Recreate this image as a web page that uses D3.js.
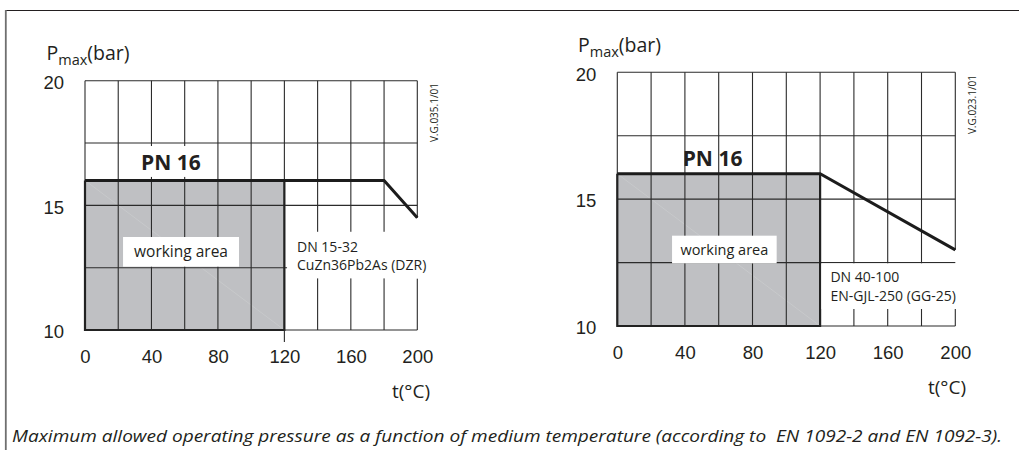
<!DOCTYPE html>
<html>
<head>
<meta charset="utf-8">
<script src="https://cdn.jsdelivr.net/npm/d3@7"></script>
<style>
  body { margin: 0; background: #fff; }
  svg { display: block; font-family: "Open Sans", "Noto Sans", sans-serif; }
</style>
</head>
<body>
<svg id="chart" width="1019" height="450"></svg>
<script>
// ---- data ----
const tempLabels = [0, 40, 80, 120, 160, 200];
const pressLabels = [10, 15, 20];
const gridTemps = [0, 20, 40, 60, 80, 100, 120, 140, 160, 180, 200];
const gridPress = [10, 12.5, 15, 17.5, 20];

const leftCurveT = [0, 180, 200];
const leftCurveP = [16, 16, 14.5];
const rightCurveT = [0, 120, 200];
const rightCurveP = [16, 16, 13];

const workTemp = [0, 120];     // working area, temperature range
const workPress = [10, 16];    // working area, pressure range

const leftMaterial = ["DN 15-32", "CuZn36Pb2As (DZR)"];
const rightMaterial = ["DN 40-100", "EN-GJL-250 (GG-25)"];
const leftCode = "V.G.035.1/01";
const rightCode = "V.G.023.1/01";
const caption = "Maximum allowed operating pressure as a function of medium temperature (according to  EN 1092-2 and EN 1092-3).";

const ink = "#231f20";
const gridCol = "#2b2b2b";
const grey = "#bfc0c3";

const svg = d3.select("#chart");

// page frame
svg.append("line").attr("x1", 5.5).attr("x2", 1019).attr("y1", 10.5).attr("y2", 10.5)
  .attr("stroke", ink).attr("stroke-width", 1.2);
svg.append("line").attr("x1", 5.8).attr("x2", 5.8).attr("y1", 10).attr("y2", 450)
  .attr("stroke", "#6f6f6f").attr("stroke-width", 1.8);

function panel(opt) {
  const x = d3.scaleLinear().domain([0, 200]).range(opt.xr);
  const y = d3.scaleLinear().domain([10, 20]).range(opt.yr);
  const g = svg.append("g");
  const curveEnd = opt.curveP[opt.curveP.length - 1];

  // working area fill
  g.append("rect")
    .attr("x", x(workTemp[0])).attr("y", y(workPress[1]))
    .attr("width", x(workTemp[1]) - x(workTemp[0]))
    .attr("height", y(workPress[0]) - y(workPress[1]))
    .attr("fill", grey);
  // faint diagonal seam in the grey area
  g.append("line")
    .attr("x1", x(workTemp[0])).attr("y1", y(workPress[1]))
    .attr("x2", x(workTemp[1])).attr("y2", y(workPress[0]))
    .attr("stroke", "#cdced0").attr("stroke-width", 0.6);

  // horizontal grid
  g.selectAll("line.h").data(gridPress).join("line").attr("class", "h")
    .attr("x1", x(0)).attr("x2", x(200))
    .attr("y1", d => y(d)).attr("y2", d => y(d))
    .attr("stroke", gridCol).attr("stroke-width", 1.1);

  // vertical grid (right edge stops at the curve end)
  g.selectAll("line.v").data(gridTemps).join("line").attr("class", "v")
    .attr("x1", d => x(d)).attr("x2", d => x(d))
    .attr("y1", y(20))
    .attr("y2", d => d === 200 ? y(curveEnd) : y(10))
    .attr("stroke", gridCol).attr("stroke-width", 1.1);
  g.append("line")
    .attr("x1", x(200)).attr("x2", x(200))
    .attr("y1", y(opt.dnBox[3])).attr("y2", y(10))
    .attr("stroke", gridCol).attr("stroke-width", 1.1);

  // working area outline
  g.append("path")
    .attr("d", `M${x(workTemp[0])},${y(workPress[1])}V${y(workPress[0])}H${x(workTemp[1])}V${y(workPress[1])}`)
    .attr("fill", "none").attr("stroke", "#222").attr("stroke-width", 2.2);

  if (opt.tick120) {
    g.append("line").attr("x1", x(120)).attr("x2", x(120))
      .attr("y1", y(10)).attr("y2", y(10) + 12)
      .attr("stroke", gridCol).attr("stroke-width", 1.1);
  }

  // material label box
  const b = opt.dnBox;
  g.append("rect")
    .attr("x", x(b[0])).attr("y", y(b[2]))
    .attr("width", x(b[1]) - x(b[0])).attr("height", y(b[3]) - y(b[2]))
    .attr("fill", "#fff");
  g.append("text")
    .attr("x", x(b[0]) + opt.dnPad).attr("y", y(b[2]) + opt.dnLine1)
    .attr("font-size", opt.dnSize).attr("fill", ink)
    .selectAll("tspan").data(opt.material).join("tspan")
    .attr("x", x(b[0]) + opt.dnPad).attr("dy", (d, i) => i ? opt.dnGap : 0)
    .text(d => d);

  // PN 16 label
  if (opt.pnBox) {
    const p = opt.pnBox;
    g.append("rect")
      .attr("x", x(p[0])).attr("y", y(p[2]))
      .attr("width", x(p[1]) - x(p[0])).attr("height", y(p[3]) - y(p[2]))
      .attr("fill", "#fff");
  }
  g.append("text")
    .attr("x", x(opt.pnT)).attr("y", opt.pnY)
    .attr("font-size", 21).attr("font-weight", "bold").attr("fill", ink)
    .text("PN 16");

  // pressure curve
  const pts = opt.curveT.map((t, i) => [t, opt.curveP[i]]);
  g.append("path")
    .datum(pts)
    .attr("d", d3.line().x(d => x(d[0])).y(d => y(d[1])))
    .attr("fill", "none").attr("stroke", "#1c1c1c").attr("stroke-width", 3)
    .attr("stroke-linejoin", "miter");

  // working area label
  const w = opt.workBox;
  g.append("rect")
    .attr("x", x(w[0])).attr("y", y(w[2]))
    .attr("width", x(w[1]) - x(w[0])).attr("height", y(w[3]) - y(w[2]))
    .attr("fill", "#fff");
  g.append("text")
    .attr("x", (x(w[0]) + x(w[1])) / 2).attr("y", (y(w[2]) + y(w[3])) / 2)
    .attr("dy", "0.35em").attr("text-anchor", "middle")
    .attr("font-size", opt.workSize).attr("fill", ink)
    .text("working area");

  // axes (labels only)
  const ax = g.append("g")
    .attr("transform", `translate(0,${y(10)})`)
    .call(d3.axisBottom(x).tickValues(tempLabels).tickSize(0).tickPadding(20).tickFormat(d3.format("d")));
  ax.select(".domain").remove();
  ax.selectAll("text").attr("font-size", 18.5).attr("fill", ink).attr("font-family", null);

  const ay = g.append("g")
    .attr("transform", `translate(${x(0)},0)`)
    .call(d3.axisLeft(y).tickValues(pressLabels).tickSize(0).tickPadding(21).tickFormat(d3.format("d")));
  ay.select(".domain").remove();
  ay.selectAll("text").attr("font-size", 18.5).attr("fill", ink).attr("dy", "0.42em").attr("font-family", null);

  // axis titles
  const pt = g.append("text").attr("x", opt.pLabel[0]).attr("y", opt.pLabel[1])
    .attr("font-size", 19.5).attr("fill", ink);
  pt.append("tspan").text("P");
  pt.append("tspan").attr("font-size", 14.5).attr("dy", 5).text("max");
  pt.append("tspan").attr("dy", -5).text("(bar)");

  g.append("text").attr("x", opt.tLabel[0]).attr("y", opt.tLabel[1])
    .attr("text-anchor", "end").attr("font-size", 19).attr("fill", ink)
    .text("t(°C)");

  // drawing code
  g.append("text")
    .attr("transform", `translate(${opt.code[0]},${opt.code[1]}) rotate(-90)`)
    .attr("text-anchor", "end").attr("font-size", 10).attr("fill", ink)
    .text(opt.codeText);
}

panel({
  xr: [85, 417.3], yr: [330, 80.7],
  curveT: leftCurveT, curveP: leftCurveP,
  material: leftMaterial, dnBox: [121.6, 215, 13.94, 12.07],
  dnPad: 10, dnLine1: 20, dnGap: 18.5, dnSize: 14,
  pnBox: [20.6, 79.4, 17.38, 16.14], pnT: 33.7, pnY: 169.5,
  workBox: [22.9, 92.7, 13.73, 12.54], workSize: 15.5,
  pLabel: [46.5, 60], tLabel: [430, 398],
  code: [437.5, 83], codeText: leftCode,
  tick120: true
});

panel({
  xr: [617.3, 955.3], yr: [326, 72.3],
  curveT: rightCurveT, curveP: rightCurveP,
  material: rightMaterial, dnBox: [120.8, 215, 12.47, 10.67],
  dnPad: 9, dnLine1: 19, dnGap: 18.5, dnSize: 14,
  pnBox: null, pnT: 38.7, pnY: 165.5,
  workBox: [32.4, 94.3, 13.56, 12.47], workSize: 14.5,
  pLabel: [578, 51.7], tLabel: [966, 394],
  code: [975.5, 75], codeText: rightCode,
  tick120: false
});

// caption
svg.append("text")
  .attr("x", 12).attr("y", 441.5)
  .style("white-space", "pre")
  .attr("font-size", 16).attr("font-style", "italic").attr("fill", ink)
  .attr("textLength", 990).attr("lengthAdjust", "spacingAndGlyphs")
  .text(caption);
</script>
</body>
</html>
